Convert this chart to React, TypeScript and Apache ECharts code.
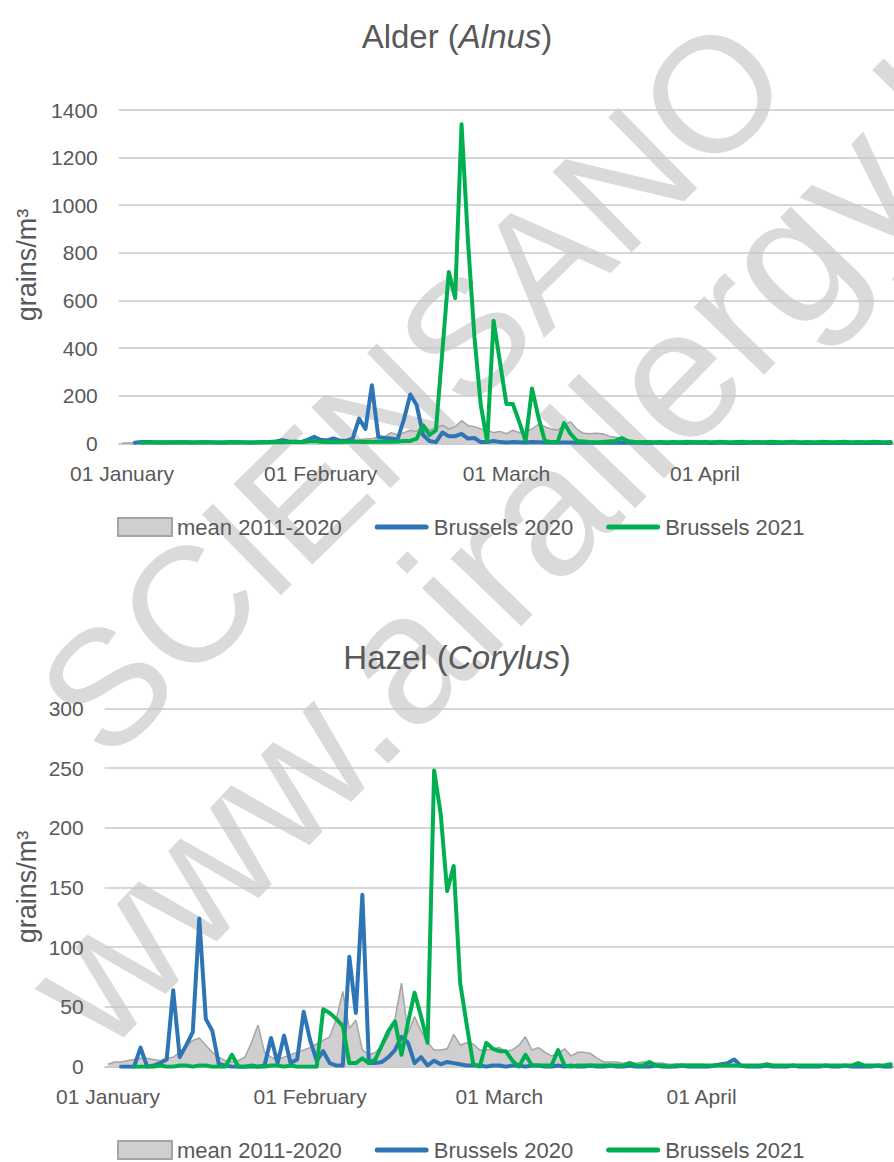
import React, { useEffect, useRef } from "react";
import * as echarts from "echarts";

// ---------- categories (one per day, 1 Jan – 30 Apr) ----------
const MONTHS = ["January", "February", "March", "April"];
const MONTH_DAYS = [31, 29, 31, 30];
const categories: string[] = [];
MONTHS.forEach((m, i) => {
  for (let d = 1; d <= MONTH_DAYS[i]; d++) categories.push(`${String(d).padStart(2, "0")} ${m}`);
});

const yTicksAlder = { min: 0, max: 1400, interval: 200 };
const yTicksHazel = { min: 0, max: 300, interval: 50 };

const SERIES_NAMES = ["mean 2011-2020", "Brussels 2020", "Brussels 2021"];

// ---------- Alder (Alnus) ----------
const alderMean = [
  1, 1, 2, 2, 2, 2, 2, 3, 3, 2,
  2, 2, 3, 3, 3, 2, 2, 3, 3, 3,
  3, 4, 4, 4, 5, 5, 5, 6, 6, 7,
  8, 8, 9, 10, 10, 12, 12, 15, 18, 20,
  25, 28, 45, 35, 45, 55, 50, 80, 55, 65,
  75, 60, 70, 95, 75, 70, 60, 55, 45, 50,
  40, 55, 45, 50, 60, 80, 70, 60, 55, 75,
  90, 60, 42, 40, 42, 40, 30, 25, 20, 15,
  12, 10, 9, 8, 7, 6, 5, 5, 4, 4,
  4, 3, 3, 3, 3, 3, 2, 2, 2, 2,
  2, 2, 2, 2, 2, 2, 2, 2, 1, 1,
  1, 1, 1, 1, 1, 1, 1, 1, 1, 1, 1,
];
const alder2020 = [
  null, null, 2, 5, 5, 4, 3, 4, 3, 3,
  4, 3, 3, 4, 3, 3, 2, 3, 4, 3,
  3, 3, 4, 5, 8, 13, 8, 6, 5, 15,
  27, 15, 12, 20, 12, 10, 20, 104, 60, 244,
  27, 22, 20, 15, 100, 205, 160, 35, 10, 5,
  45, 30, 30, 40, 20, 22, 5, 5, 10, 5,
  3, 5, 4, 3, 5, 4, 3, 4, 3, 3,
  3, 2, 3, 2, 2, 3, 2, 2, 2, 2,
  2, 2, 1, 2, 2, 1, 2, 2, 1, 2,
  3, 2, 1, 2, 2, 1, 2, 1, 2, 3,
  2, 1, 2, 1, 2, 2, 1, 2, 1, 1,
  2, 1, 1, 2, 1, 1, 2, 1, 1, 1, 1,
];
const alder2021 = [
  null, null, null, 2, 3, 3, 4, 3, 4, 5,
  4, 3, 4, 5, 4, 3, 4, 5, 4, 4,
  3, 4, 5, 4, 5, 4, 5, 6, 5, 8,
  10, 6, 5, 6, 5, 6, 8, 6, 5, 6,
  8, 7, 6, 8, 10, 10, 20, 75, 35, 55,
  385, 720, 610, 1340, 850, 450, 160, 8, 515, 340,
  165, 165, 90, 10, 230, 110, 10, 5, 5, 85,
  40, 10, 8, 5, 4, 5, 8, 10, 22, 8,
  5, 4, 5, 4, 6, 4, 5, 4, 6, 5,
  4, 5, 4, 6, 5, 4, 5, 6, 4, 5,
  4, 6, 5, 4, 5, 6, 4, 5, 4, 6,
  5, 4, 5, 6, 4, 5, 4, 6, 5, 4, 5,
];

// ---------- Hazel (Corylus) ----------
const hazelMean = [
  2, 4, 4, 5, 6, 7, 7, 6, 5, 7,
  8, 12, 17, 22, 24, 18, 12, 8, 5, 4,
  5, 8, 20, 35, 12, 8, 6, 8, 10, 12,
  14, 16, 19, 22, 25, 40, 63, 32, 39, 14,
  10, 12, 17, 25, 40, 70, 28, 42, 30, 20,
  14, 14, 15, 27, 18, 20, 19, 14, 14, 15,
  16, 13, 14, 18, 25, 14, 16, 12, 9, 11,
  15, 9, 12, 12, 11, 7, 4, 4, 4, 3,
  4, 3, 4, 4, 3, 3, 2, 2, 2, 2,
  2, 2, 1, 2, 1, 1, 2, 1, 1, 1,
  1, 1, 1, 1, 1, 1, 1, 1, 1, 1,
  1, 1, 1, 1, 1, 1, 1, 1, 1, 1, 1,
];
const hazel2020 = [
  null, null, 0, 0, 0, 16, 0, 1, 3, 6,
  64, 8, 18, 29, 124, 40, 30, 2, 1, 0,
  0, 0, 0, 0, 1, 24, 3, 26, 3, 6,
  46, 22, 5, 13, 3, 1, 1, 92, 45, 144,
  3, 3, 4, 8, 14, 25, 20, 3, 8, 1,
  5, 2, 4, 3, 2, 1, 1, 1, 0, 1,
  1, 0, 1, 1, 0, 1, 1, 0, 0, 1,
  0, 1, 0, 0, 1, 0, 0, 1, 0, 0,
  1, 0, 0, 0, 1, 0, 0, 0, 1, 0,
  0, 0, 0, 1, 2, 3, 6, 1, 0, 0,
  0, 1, 0, 0, 0, 1, 0, 0, 0, 0,
  1, 0, 0, 1, 0, 0, 0, 0, 1, 0, 0,
];
const hazel2021 = [
  null, null, null, null, 0, 0, 0, 0, 1, 0,
  0, 1, 1, 0, 1, 1, 0, 0, 0, 10,
  0, 0, 1, 0, 0, 1, 1, 0, 1, 0,
  0, 0, 0, 48, 45, 40, 34, 3, 3, 7,
  3, 6, 18, 30, 38, 10, 37, 62, 42, 20,
  248, 212, 147, 168, 70, 35, 2, 0, 20, 15,
  13, 13, 5, 0, 10, 1, 1, 1, 1, 14,
  1, 0, 1, 1, 1, 1, 1, 1, 1, 1,
  3, 1, 1, 4, 1, 1, 0, 1, 1, 1,
  1, 1, 1, 1, 1, 1, 1, 1, 1, 1,
  1, 2, 1, 1, 1, 1, 1, 1, 1, 1,
  1, 1, 1, 1, 1, 3, 1, 1, 1, 1, 2,
];

const FONT = "'Liberation Sans', Arial, sans-serif";
const TXT = "#595959";
const GRID = "#C8C8C8";
const GRAY_FILL = "#D0CECE";
const GRAY_LINE = "#A5A5A5";
const BLUE = "#2E75B6";
const GREEN = "#00B050";
const WM = "#DADADA";

// legend line icon: a 5px rounded bar inside a 54x18 box
const LINE_ICON =
  "path://M0,0 M2.5,6.5 L51.5,6.5 A2.5,2.5 0 0 1 51.5,11.5 L2.5,11.5 A2.5,2.5 0 0 1 2.5,6.5 Z M54,18";

function xAxisFor(gridIndex: number, margin: number) {
  return {
    type: "category",
    gridIndex,
    data: categories,
    boundaryGap: true,
    axisTick: { show: false },
    axisLine: { show: true, lineStyle: { color: GRID, width: 1.5 } },
    axisLabel: {
      interval: (_i: number, v: string) => v.startsWith("01 "),
      color: TXT,
      fontFamily: FONT,
      fontSize: 21,
      margin,
    },
    splitLine: { show: false },
  };
}

function yAxisFor(gridIndex: number, t: { min: number; max: number; interval: number }) {
  return {
    type: "value",
    gridIndex,
    min: t.min,
    max: t.max,
    interval: t.interval,
    axisLine: { show: false },
    axisTick: { show: false },
    axisLabel: {
      color: TXT,
      fontFamily: FONT,
      fontSize: 21,
      margin: 21,
      formatter: (v: number) => String(v),
    },
    splitLine: { lineStyle: { color: GRID, width: 1.5 } },
  };
}

function seriesFor(idx: number, mean: number[], s2020: (number | null)[], s2021: (number | null)[]) {
  return [
    {
      name: SERIES_NAMES[0],
      type: "line",
      xAxisIndex: idx,
      yAxisIndex: idx,
      data: mean,
      symbol: "none",
      color: GRAY_LINE,
      lineStyle: { color: GRAY_LINE, width: 1.5 },
      areaStyle: { color: GRAY_FILL, opacity: 1 },
      z: 2,
    },
    {
      name: SERIES_NAMES[1],
      type: "line",
      xAxisIndex: idx,
      yAxisIndex: idx,
      data: s2020,
      symbol: "none",
      color: BLUE,
      lineStyle: { color: BLUE, width: 4, cap: "round", join: "round" },
      z: 3,
    },
    {
      name: SERIES_NAMES[2],
      type: "line",
      xAxisIndex: idx,
      yAxisIndex: idx,
      data: s2021,
      symbol: "none",
      color: GREEN,
      lineStyle: { color: GREEN, width: 4, cap: "round", join: "round" },
      z: 4,
    },
  ];
}

function legendFor(top: number) {
  return {
    left: 117,
    top,
    padding: 0,
    itemWidth: 54,
    itemHeight: 18,
    itemGap: 33,
    selectedMode: false,
    textStyle: { color: TXT, fontFamily: FONT, fontSize: 22 },
    data: [
      {
        name: SERIES_NAMES[0],
        icon: "rect",
        itemStyle: { color: GRAY_FILL, borderColor: GRAY_LINE, borderWidth: 2 },
      },
      {
        name: SERIES_NAMES[1],
        icon: LINE_ICON,
        itemStyle: { color: BLUE, borderWidth: 0 },
      },
      {
        name: SERIES_NAMES[2],
        icon: LINE_ICON,
        itemStyle: { color: GREEN, borderWidth: 0 },
      },
    ],
  };
}

function titleFor(name: string, latin: string, top: number) {
  return {
    text: `${name} ({i|${latin}})`,
    left: 452,
    top,
    textAlign: "center",
    textStyle: {
      color: TXT,
      fontFamily: FONT,
      fontSize: 33,
      fontWeight: "normal",
      rich: { i: { fontStyle: "italic", color: TXT, fontFamily: FONT, fontSize: 33 } },
    },
  };
}

function yNameFor(y: number) {
  return {
    type: "text",
    x: 27,
    y,
    rotation: Math.PI / 2,
    style: {
      text: "grains/m³",
      fill: TXT,
      font: `27px ${FONT}`,
      textAlign: "center",
      textVerticalAlign: "middle",
    },
  };
}

export default function App() {
  const ref = useRef<HTMLDivElement>(null);

  useEffect(() => {
    if (!ref.current) return;
    const chart = echarts.init(ref.current, undefined, { renderer: "svg" });

    const option: any = {
      animation: false,
      backgroundColor: "#ffffff",
      title: [titleFor("Alder", "Alnus", 15), titleFor("Hazel", "Corylus", 636)],
      graphic: [
        {
          type: "text",
          z: -10,
          x: 413,
          y: 387,
          rotation: 0.774,
          silent: true,
          style: {
            text: "SCIENSANO",
            fill: WM,
            font: `164px ${FONT}`,
            textAlign: "center",
            textVerticalAlign: "middle",
          },
        },
        {
          type: "text",
          z: -10,
          x: 558,
          y: 496,
          rotation: 0.803,
          silent: true,
          style: {
            text: "www.airallergy.be",
            fill: WM,
            font: `185px ${FONT}`,
            textAlign: "center",
            textVerticalAlign: "middle",
          },
        },
        yNameFor(265),
        yNameFor(887),
      ],
      legend: [legendFor(516), legendFor(1139)],
      grid: [
        { left: 118.8, top: 110, width: 783, height: 333.3, containLabel: false },
        { left: 104.7, top: 708.3, width: 800, height: 358.4, containLabel: false },
      ],
      xAxis: [xAxisFor(0, 20), xAxisFor(1, 19)],
      yAxis: [yAxisFor(0, yTicksAlder), yAxisFor(1, yTicksHazel)],
      series: [
        ...seriesFor(0, alderMean, alder2020, alder2021),
        ...seriesFor(1, hazelMean, hazel2020, hazel2021),
      ],
    };

    chart.setOption(option);
    return () => chart.dispose();
  }, []);

  return (
    <div
      ref={ref}
      style={{ position: "fixed", left: 0, top: 0, width: 894, height: 1162, overflow: "hidden" }}
    />
  );
}
